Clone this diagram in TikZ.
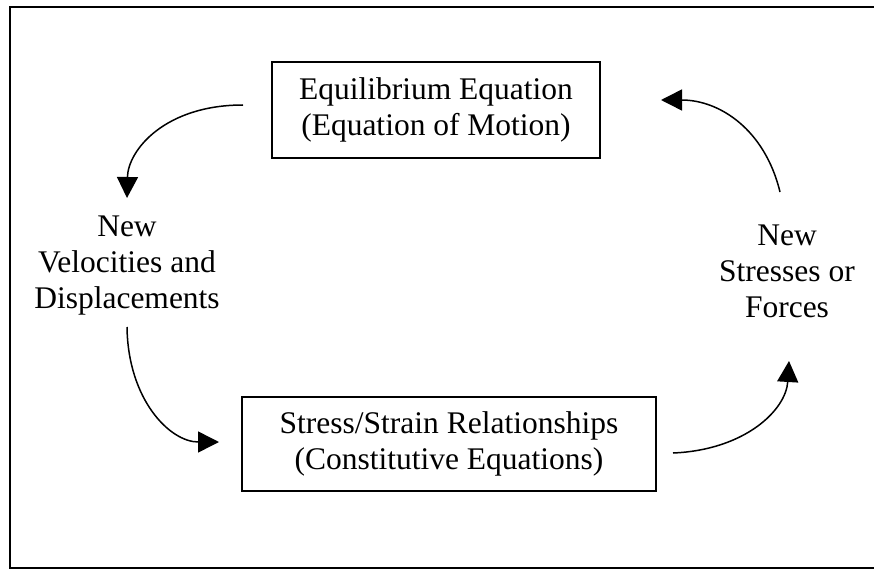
\documentclass[tikz,border=0pt]{standalone}
\usepackage{fontspec}
\setmainfont{Liberation Serif}
\usetikzlibrary{arrows.meta}
\begin{document}
\begin{tikzpicture}[x=1pt,y=-1pt,
  every node/.style={font=\fontsize{31.5}{36}\selectfont, align=center, inner sep=0pt},
  stagebox/.style={draw, line width=1.6pt, minimum width=#1},
  stagelabel/.style={},
  flow/.style={line width=1.5pt, -{Triangle[length=21pt,width=21pt]}}]
  \useasboundingbox (0,0) rectangle (874,569);
  % outer frame (right side runs past the page edge)
  \draw[line width=1.6pt] (880,7) -- (10,7) -- (10,568) -- (880,568);

  % the two process boxes
  \node[stagebox=328pt, minimum height=96pt] (equil) at (436,110)
    {Equilibrium Equation\\(Equation of Motion)};
  \node[stagebox=414pt, minimum height=94pt] (constit) at (449,444)
    {Stress/Strain Relationships\\(Constitutive Equations)};

  % intermediate quantities
  \node[stagelabel] (veloc) at (127,266) {New\\Velocities and\\Displacements};
  \node[stagelabel] (stress) at (787,271) {New\\Stresses or\\Forces};

  % arrow end points
  \coordinate (a1) at (243,105);  \coordinate (a2) at (127,198);
  \coordinate (b1) at (127,327);  \coordinate (b2) at (219,442);
  \coordinate (c1) at (673,453);  \coordinate (c2) at (789,361);
  \coordinate (d1) at (780,192);  \coordinate (d2) at (661,100);

  % the cycle
  \draw[flow] (a1) .. controls (165,105) and (128,150) .. (a2);
  \draw[flow] (b1) .. controls (128,400) and (170,442) .. (b2);
  \draw[flow] (c1) .. controls (745,450) and (786,410) .. (c2);
  \draw[flow] (d1) .. controls (765,130) and (720,100) .. (d2);
\end{tikzpicture}
\end{document}
